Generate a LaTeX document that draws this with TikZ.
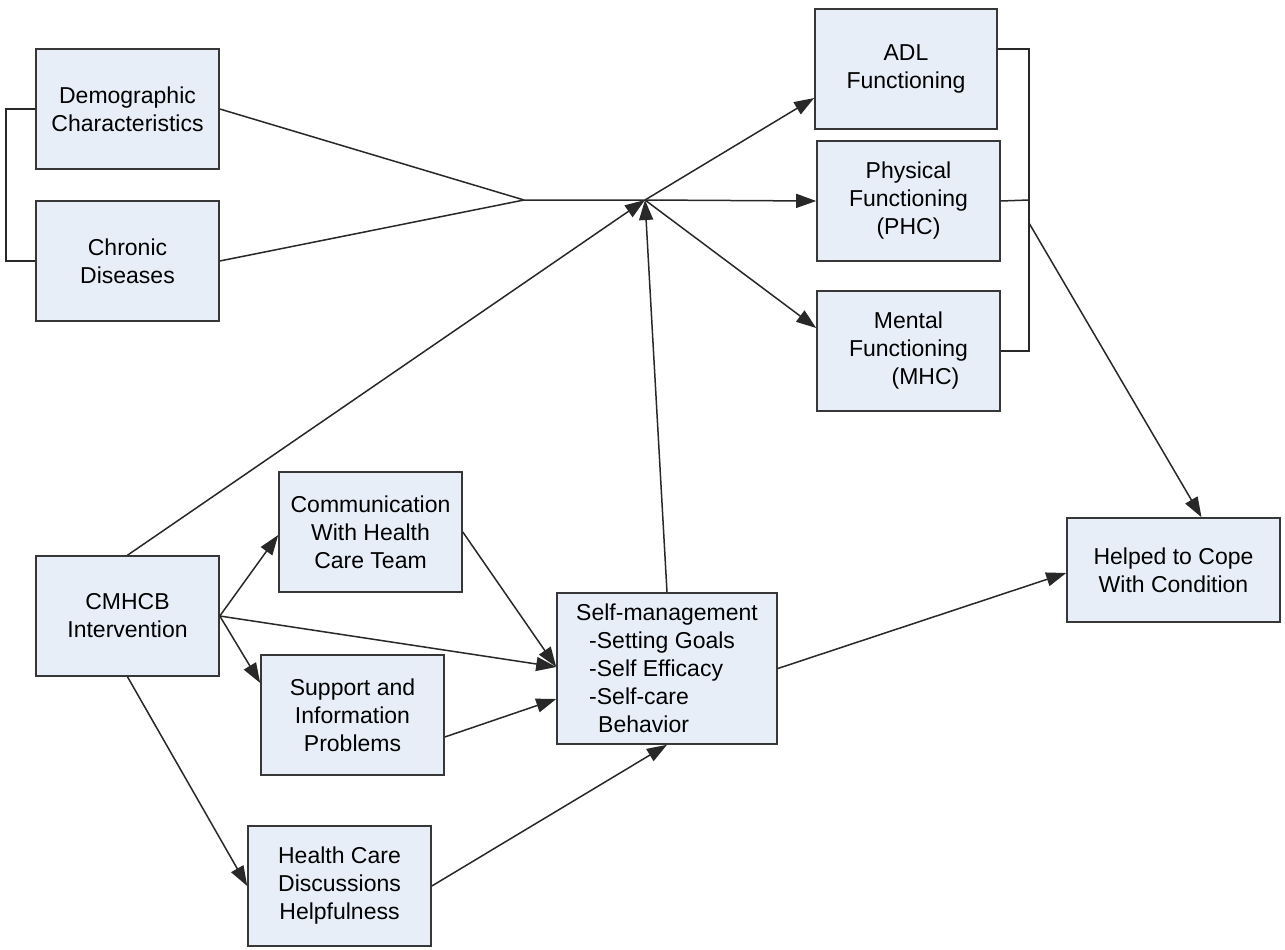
\documentclass[tikz,border=0pt]{standalone}
\usepackage{fontspec}
\setmainfont{Liberation Sans}
\usetikzlibrary{arrows.meta}
\definecolor{boxfill}{RGB}{232,238,248}
\definecolor{boxline}{RGB}{55,55,55}
\definecolor{conn}{RGB}{40,40,40}
\begin{document}
\begin{tikzpicture}[x=1pt,y=-1pt,
  bx/.style={draw=boxline,fill=boxfill,line width=1.6pt,inner sep=0pt,align=center,
    minimum width=183pt,minimum height=120pt,
    font=\fontsize{23pt}{28pt}\selectfont},
  ln/.style={draw=conn,line width=1.5pt},
  arr/.style={ln,-{Triangle[length=20pt,width=14pt]}}]
\useasboundingbox (0,0) rectangle (1285,950);
% boxes
\node[bx] (demo) at (127.5,109) {Demographic\\Characteristics};
\node[bx] (chron) at (127.5,261) {Chronic\\Diseases};
\node[bx,minimum width=182pt] (adl) at (906,69) {ADL\\Functioning};
\node[bx] (phys) at (908.5,201) {Physical\\Functioning\\(PHC)};
\node[bx] (ment) at (908.5,351) {Mental\\Functioning\\\hspace*{34pt}(MHC)};
\node[bx] (comm) at (370.5,532) {Communication\\With Health\\Care Team};
\node[bx] (cmhcb) at (127.5,616) {CMHCB\\Intervention};
\node[bx] (supp) at (352.5,715) {Support and\\Information\\Problems};
\node[bx,minimum width=220pt,minimum height=151pt,align=left] (selfm) at (667,668.5)
  {Self-management\\\hspace*{13pt}-Setting Goals\\\hspace*{13pt}-Self Efficacy\\\hspace*{13pt}-Self-care\\\hspace*{22pt}Behavior};
\node[bx,minimum width=213pt,minimum height=104pt] (help) at (1173.5,570) {Helped to Cope\\With Condition};
\node[bx] (hcd) at (339.5,886) {Health Care\\Discussions\\Helpfulness};
% junctions
\coordinate (lb1) at (6,109);
\coordinate (lb2) at (6,261);
\coordinate (j1) at (524,200);
\coordinate (j2) at (645,200);
\coordinate (rb1) at (1029,49);
\coordinate (rb2) at (1029,200);
\coordinate (rb3) at (1029,351);
\coordinate (rbo) at (1029,223);
% connectors
\draw[ln] (demo.west) -- (lb1) -- (lb2) -- (chron.west);
\draw[ln] (demo.east) -- (j1);
\draw[ln] (chron.east) -- (j1) -- (j2);
\draw[arr] (j2) -- ([yshift=-29pt]adl.west);
\draw[arr] (j2) -- (phys.west);
\draw[arr] (j2) -- ([yshift=23pt]ment.west);
\draw[arr] (cmhcb.north) -- (j2);
\draw[arr] (selfm.north) -- (j2);
\draw[ln] ([yshift=20pt]adl.east) -- (rb1) -- (rb3) -- (ment.east);
\draw[ln] (phys.east) -- (rb2);
\draw[arr] (rbo) -- ([xshift=28pt]help.north);
\draw[arr] (cmhcb.east) -- ([yshift=-3pt]comm.west);
\draw[arr] (cmhcb.east) -- ([yshift=32pt]supp.west);
\draw[arr] (cmhcb.east) -- ([yshift=1.5pt]selfm.west);
\draw[arr] (comm.east) -- ([yshift=1.5pt]selfm.west);
\draw[arr] ([yshift=-22pt]supp.east) -- ([yshift=-30.5pt]selfm.west);
\draw[arr] (cmhcb.south) -- (hcd.west);
\draw[arr] (hcd.east) -- (selfm.south);
\draw[arr] (selfm.east) -- ([yshift=-3pt]help.west);
\end{tikzpicture}
\end{document}
